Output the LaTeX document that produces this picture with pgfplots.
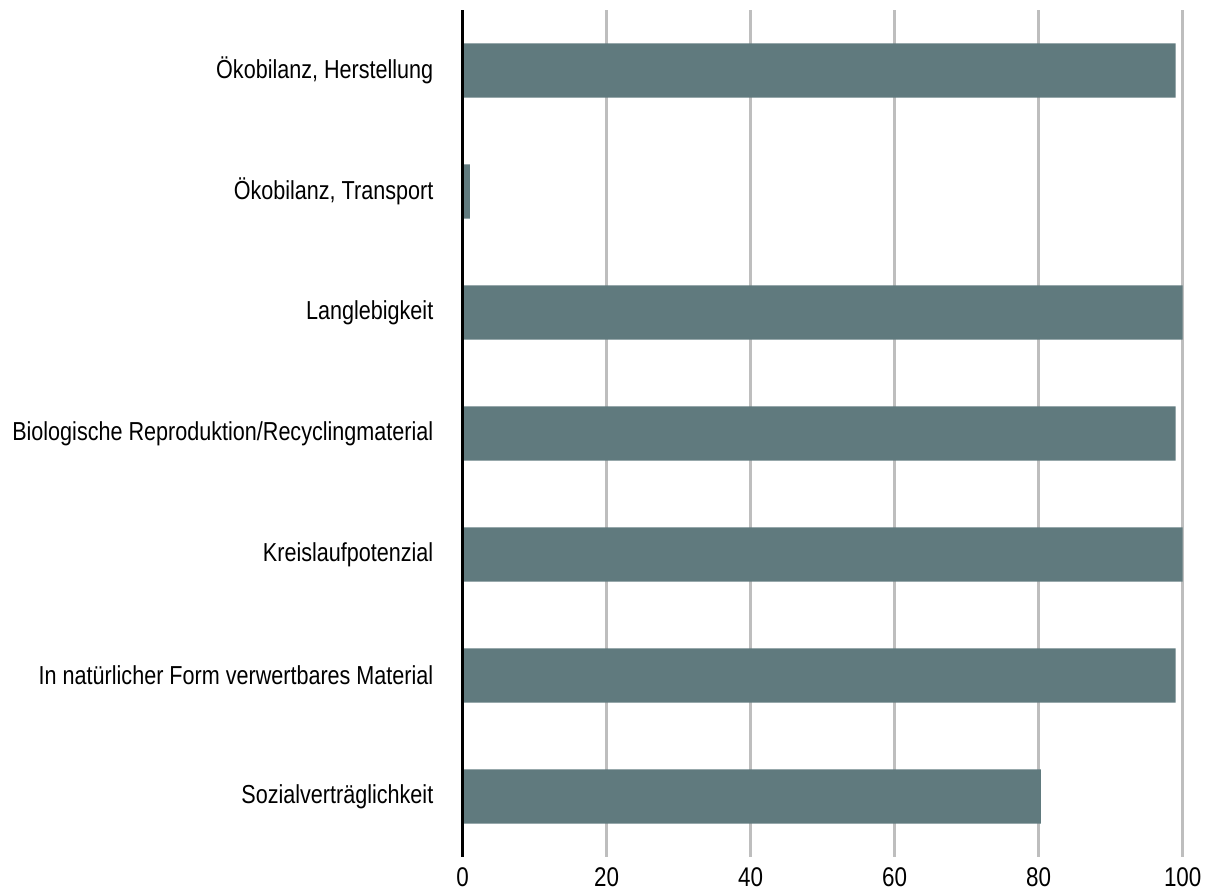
\documentclass[border=0pt]{standalone}
\usepackage{fontspec}
\setmainfont{Liberation Sans}[FakeStretch=0.83]
\usepackage{pgfplots}
\pgfplotsset{compat=1.18}
\definecolor{barc}{HTML}{607A7E}
\definecolor{gridc}{HTML}{BEBEBE}
\begin{document}
\fontsize{13pt}{15pt}\selectfont
\begin{tikzpicture}
\begin{axis}[
  scale only axis,
  width=360pt, height=423.5pt,
  xmin=0, xmax=100,
  ymin=-0.5, ymax=6.5,
  y dir=reverse,
  clip=false,
  xbar, bar width=0.45,
  bar shift=0pt,
  xtick={0,20,40,60,80,100},
  ytick={0,1,2,3,4,5,6},
  yticklabels={{Ökobilanz, Herstellung},{Ökobilanz, Transport},{Langlebigkeit},{Biologische Reproduktion/Recyclingmaterial},{Kreislaufpotenzial},{In natürlicher Form verwertbares Material},{Sozialverträglichkeit}},
  xmajorgrids,
  grid style={gridc, line width=1.3pt},
  axis line style={draw=none},
  major tick length=0pt,
  tick style={draw=none},
  /pgf/number format/assume math mode=true,
  ticklabel style={font=\fontsize{13pt}{15pt}\selectfont},
  xticklabel style={inner sep=0pt, yshift=-5pt, font=\fontsize{13.5pt}{15pt}\selectfont},
  yticklabel style={inner sep=0pt, xshift=-14.5pt},
]
\addplot[fill=barc, draw=none] coordinates {
(99,0) (1,1) (100,2) (99,3) (100,4) (99,5) (80.3,6)};
\draw[black, line width=1.3pt] (axis cs:0,-0.5) -- (axis cs:0,6.5);
\end{axis}
\pgfresetboundingbox
\useasboundingbox (-231.35pt,-16.5pt) rectangle (373.15pt,428.5pt);
\end{tikzpicture}
\end{document}
